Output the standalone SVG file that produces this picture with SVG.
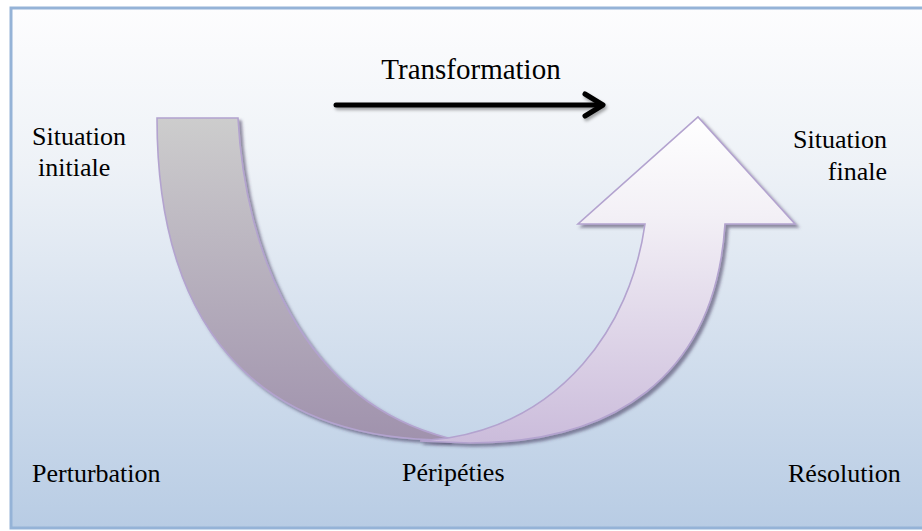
<svg xmlns="http://www.w3.org/2000/svg" width="922" height="531" viewBox="0 0 922 531">
  <defs>
    <linearGradient id="bg" x1="0" y1="0" x2="0" y2="1">
      <stop offset="0" stop-color="#fdfdfe"/>
      <stop offset="0.3" stop-color="#eef2f7"/>
      <stop offset="1" stop-color="#b8cce4"/>
    </linearGradient>
    <linearGradient id="greyBand" gradientUnits="userSpaceOnUse" x1="0" y1="118" x2="0" y2="440">
      <stop offset="0" stop-color="#cdcdcd"/>
      <stop offset="1" stop-color="#a092ad"/>
    </linearGradient>
    <linearGradient id="lilacArrow" gradientUnits="userSpaceOnUse" x1="0" y1="117" x2="0" y2="443">
      <stop offset="0" stop-color="#ffffff"/>
      <stop offset="0.3" stop-color="#f3f0f6"/>
      <stop offset="1" stop-color="#cbbcdb"/>
    </linearGradient>
    <filter id="shadow" x="-10%" y="-10%" width="130%" height="130%">
      <feDropShadow dx="3" dy="3" stdDeviation="1.5" flood-color="#3c3858" flood-opacity="0.55"/>
    </filter>
    <filter id="lineShadow" x="-10%" y="-50%" width="120%" height="200%">
      <feDropShadow dx="1.5" dy="2.5" stdDeviation="1.5" flood-color="#000000" flood-opacity="0.35"/>
    </filter>
  </defs>
  <style>
    text { font-family: "Liberation Serif", "Times New Roman", Times, "DejaVu Serif", serif; fill: #000000; }
    .lbl { font-size: 26px; }
    .title { font-size: 29px; }
    .band { stroke: #b3a3cf; stroke-width: 1.6; stroke-linejoin: miter; }
  </style>

  <rect x="11" y="8" width="915" height="520" fill="url(#bg)" stroke="#95b3d7" stroke-width="3"/>

  <g id="connectors">
    <g id="transformation-arrow" filter="url(#lineShadow)" fill="none" stroke="#000000" stroke-width="5" stroke-linecap="round" stroke-linejoin="round">
      <line x1="336" y1="105" x2="601" y2="105"/>
      <polyline points="585,94 603,105 585,116"/>
    </g>
  </g>

  <g id="descent-band">
    <path class="band" filter="url(#shadow)" fill="url(#greyBand)" d="M157,118 L238,118 C245,250 300,400 448,438 L448,440 C250,440 157,320 157,118 Z"/>
  </g>

  <g id="rise-arrow">
    <path class="band" filter="url(#shadow)" fill="url(#lilacArrow)" d="M448,438 C560,420 630,330 645,224 L578,224 L698,117 L795,224 L725,224 C715,380 610,443 470,443 L420,441 Z"/>
  </g>

  <g id="labels" font-family="Liberation Serif, Times New Roman, serif">
    <g id="label-transformation">
      <text class="title" x="471" y="79" text-anchor="middle">Transformation</text>
    </g>
    <g id="label-situation-initiale">
      <text class="lbl" x="32" y="145">Situation</text>
      <text class="lbl" x="38" y="176">initiale</text>
    </g>
    <g id="label-situation-finale">
      <text class="lbl" x="887" y="148" text-anchor="end">Situation</text>
      <text class="lbl" x="887" y="180" text-anchor="end">finale</text>
    </g>
    <g id="label-perturbation">
      <text class="lbl" x="32" y="482">Perturbation</text>
    </g>
    <g id="label-peripeties">
      <text class="lbl" x="402" y="481">Péripéties</text>
    </g>
    <g id="label-resolution">
      <text class="lbl" x="788" y="482">Résolution</text>
    </g>
  </g>
</svg>
